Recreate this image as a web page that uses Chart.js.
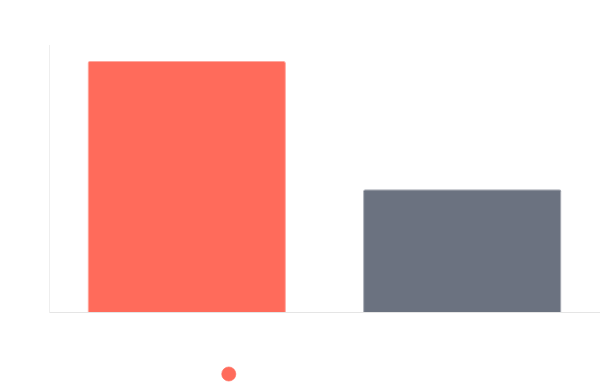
<!DOCTYPE html>
<html>
<head>
<meta charset="utf-8">
<script src="https://cdn.jsdelivr.net/npm/chart.js@4"></script>
<style>
  body { margin: 0; background: #fff; }
  #wrap { width: 600px; height: 390px; }
</style>
</head>
<body>
<div id="wrap"><canvas id="barChart" width="600" height="390"></canvas></div>
<script>
// Dữ liệu biểu đồ
const categories = ['A', 'B'];
const seriesLabel = 'Giá trị so sánh hai nhóm';
const seriesValues = [94, 46];
const barColors = ['#ff6b5b', '#6b7280'];
const yMax = 100;

const ctx = document.getElementById('barChart').getContext('2d');
const barChart = new Chart(ctx, {
    type: 'bar',
    data: {
        labels: categories,
        datasets: [{
            label: seriesLabel,
            data: seriesValues,
            backgroundColor: barColors,
            borderColor: ['rgba(255,107,91,0.6)', 'rgba(107,114,128,0.6)'],
            borderWidth: 1,
            borderRadius: 2,
            borderSkipped: 'bottom'
        }]
    },
    options: {
        responsive: false,
        animation: false,
        layout: { padding: { top: 45, left: 0, right: 0, bottom: 0 } },
        plugins: {
            legend: {
                position: 'bottom',
                labels: {
                    usePointStyle: true,
                    pointStyle: 'circle',
                    boxWidth: 10,
                    boxHeight: 10,
                    color: '#ffffff',
                    font: { size: 12, family: 'Inter' }
                }
            },
            tooltip: { enabled: false }
        },
        scales: {
            x: {
                grid: { display: false },
                border: { color: '#e5e5e5' },
                ticks: { display: false },
                afterFit: (scale) => { scale.height = 46; }
            },
            y: {
                min: 0,
                max: yMax,
                grid: { display: false },
                border: { color: '#eeeeee' },
                ticks: { display: false },
                afterFit: (scale) => { scale.width = 49; }
            }
        }
    }
});
</script>
</body>
</html>
